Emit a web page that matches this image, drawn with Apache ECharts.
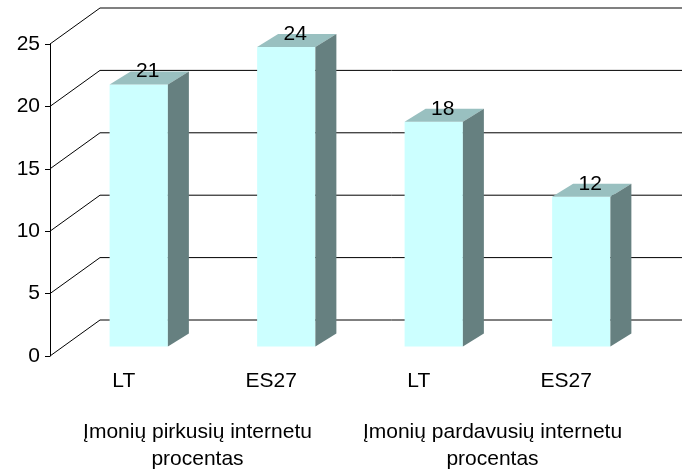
<!DOCTYPE html>
<html>
<head>
<meta charset="utf-8">
<script src="https://cdn.jsdelivr.net/npm/echarts@6/dist/echarts.min.js"></script>
<style>
  html, body { margin: 0; padding: 0; background: #fff; }
  #chart { width: 682px; height: 473px; }
</style>
</head>
<body>
<div id="chart"></div>
<script>
const categories = ['LT', 'ES27', 'LT', 'ES27']
const groups = ['Įmonių pirkusių internetu\nprocentas', 'Įmonių pardavusių internetu\nprocentas']
const values = [21, 24, 18, 12]
const yTicks = [0, 5, 10, 15, 20, 25]

// 3d look: back wall offset, bar position inside the floor and bar depth
const wallDx = 50
const wallDy = -36
const barShiftX = 15
const barShiftY = -9.5
const barDx = 21
const barDy = -13
const fontFamily = 'Liberation Sans, Arial, sans-serif'
const fontSize = 21

const chart = echarts.init(document.getElementById('chart'))

function renderWall(params, api) {
  const cs = params.coordSys
  const y = api.coord([0, api.value(1)])[1]
  const x0 = cs.x
  const isTop = api.value(1) === yTicks[yTicks.length - 1]
  return {
    type: 'group',
    children: [
      {
        type: 'line',
        shape: { x1: x0, y1: y, x2: x0 + wallDx, y2: y + wallDy },
        style: { stroke: '#000', lineWidth: 1 }
      },
      {
        type: 'line',
        shape: { x1: x0 + wallDx, y1: y + wallDy, x2: cs.x + cs.width + wallDx, y2: y + wallDy },
        style: { stroke: isTop ? '#808080' : '#000', lineWidth: isTop ? 2 : 1 }
      }
    ]
  }
}

function renderBar(params, api) {
  const idx = api.value(0)
  const val = api.value(1)
  const top = api.coord([idx, val])
  const base = api.coord([idx, 0])
  const w = api.size([1, 0])[0] * 0.395
  const cx = top[0] + barShiftX
  const x0 = cx - w / 2
  const x1 = cx + w / 2
  const yt = top[1] + barShiftY
  const yb = base[1] + barShiftY
  return {
    type: 'group',
    children: [
      {
        type: 'rect',
        shape: { x: x0, y: yt, width: w, height: yb - yt },
        style: { fill: '#CCFFFF' }
      },
      {
        type: 'polygon',
        shape: { points: [[x0, yt], [x1, yt], [x1 + barDx, yt + barDy], [x0 + barDx, yt + barDy]] },
        style: { fill: '#99C0C0' }
      },
      {
        type: 'polygon',
        shape: { points: [[x1, yt], [x1 + barDx, yt + barDy], [x1 + barDx, yb + barDy], [x1, yb]] },
        style: { fill: '#668080' }
      },
      {
        type: 'text',
        style: {
          x: cx + 9,
          y: yt - 13,
          text: String(val),
          fill: '#000',
          font: fontSize + 'px ' + fontFamily,
          align: 'center',
          verticalAlign: 'middle'
        }
      }
    ]
  }
}

chart.setOption({
  animation: false,
  backgroundColor: '#fff',
  textStyle: { fontFamily: fontFamily },
  grid: { left: 50, right: 42, top: 44, bottom: 113, containLabel: false },
  xAxis: [
    {
      type: 'category',
      data: categories,
      axisLine: { show: false },
      axisTick: { show: false },
      splitLine: { show: false },
      axisLabel: { interval: 0, color: '#000', fontSize: fontSize, margin: 15, fontFamily: fontFamily }
    },
    {
      type: 'category',
      data: groups,
      position: 'bottom',
      axisLine: { show: false },
      axisTick: { show: false },
      splitLine: { show: false },
      axisLabel: { interval: 0, color: '#000', fontSize: fontSize, lineHeight: 27, margin: 63, fontFamily: fontFamily }
    }
  ],
  yAxis: {
    type: 'value',
    min: 0,
    max: 25,
    interval: 5,
    axisLine: { show: true, lineStyle: { color: '#000', width: 1 } },
    axisTick: { show: true, length: 5, lineStyle: { color: '#000' } },
    splitLine: { show: false },
    axisLabel: { color: '#000', fontSize: fontSize, margin: 10, fontFamily: fontFamily }
  },
  series: [
    {
      type: 'custom',
      clip: false,
      silent: true,
      renderItem: renderWall,
      data: yTicks.map(v => [0, v]),
      z: 1
    },
    {
      type: 'custom',
      clip: false,
      renderItem: renderBar,
      data: values.map((v, i) => [i, v]),
      z: 2
    }
  ]
})
</script>
</body>
</html>
